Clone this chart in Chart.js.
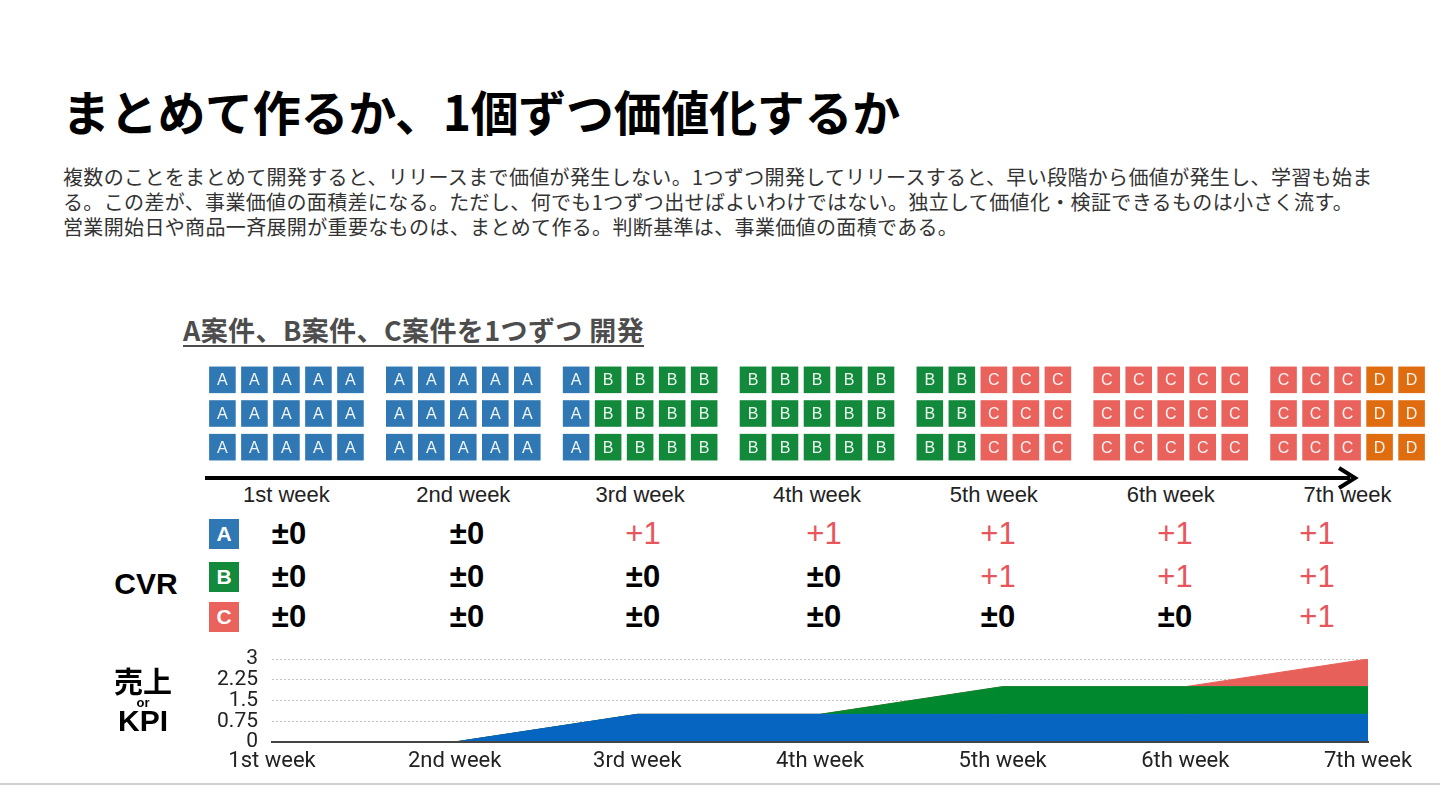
<!DOCTYPE html>
<html lang="ja">
<head>
<meta charset="utf-8">
<title>まとめて作るか、1個ずつ価値化するか</title>
<script src="https://cdn.jsdelivr.net/npm/chart.js@4.4.1/dist/chart.umd.min.js"></script>
<style>
  html, body { margin: 0; padding: 0; background: #fff; }
  body { width: 1440px; height: 810px; position: relative; overflow: hidden;
         font-family: "Noto Sans CJK JP", "Liberation Sans", sans-serif; }
  .abs { position: absolute; }
  .c { transform: translate(-50%, -50%); white-space: nowrap; }
  #title { left: 62px; top: 86px; font-size: 48px; line-height: 48px; font-weight: 700; color: #000; white-space: nowrap; letter-spacing: -0.3px; }
  #lead { left: 63px; top: 164px; font-size: 20px; line-height: 25px; color: #333; white-space: nowrap; letter-spacing: 0.35px; }
  #sub { left: 183px; top: 316px; font-size: 27px; line-height: 27px; font-weight: 700; color: #4d4d4d; letter-spacing: 0.4px;
         text-decoration: underline; text-underline-offset: 4px; text-decoration-thickness: 2px; white-space: nowrap; }
  .week { font-family: "Liberation Sans", Arial, sans-serif; font-size: 22px; color: #222; }
  .icon { width: 30px; height: 30px; line-height: 30px; text-align: center; color: #fff;
          font-family: "Liberation Sans", Arial, sans-serif; font-weight: 700; font-size: 21px; }
  .zero { font-family: "Liberation Sans", Arial, sans-serif; font-weight: 700; font-size: 31px; color: #000; }
  .plus { font-family: "Liberation Sans", Arial, sans-serif; font-weight: 400; font-size: 31px; color: #e8555a; }
  .side { font-family: "Liberation Sans", "Noto Sans CJK JP", Arial, sans-serif; font-weight: 700; color: #000; }
</style>
</head>
<body>
<div id="title" class="abs">まとめて作るか、1個ずつ価値化するか</div>
<div id="lead" class="abs">複数のことをまとめて開発すると、リリースまで価値が発生しない。1つずつ開発してリリースすると、早い段階から価値が発生し、学習も始ま<br>る。この差が、事業価値の面積差になる。ただし、何でも1つずつ出せばよいわけではない。独立して価値化・検証できるものは小さく流す。<br>営業開始日や商品一斉展開が重要なものは、まとめて作る。判断基準は、事業価値の面積である。</div>
<div id="sub" class="abs">A案件、B案件、C案件を1つずつ 開発</div>

<svg class="abs" style="left:0;top:0" width="1440" height="810">
  <line x1="205" y1="478" x2="1350" y2="478" stroke="#000" stroke-width="4"/>
  <polyline points="1339,468 1355,478 1339,488" fill="none" stroke="#000" stroke-width="4"/>
  <line x1="0" y1="784" x2="1440" y2="784" stroke="#cfcfcf" stroke-width="2"/>
</svg>

<div class="abs" style="left:198px;top:363px;">
  <canvas id="taskChart" width="1238" height="101"></canvas>
</div>
<div class="abs" style="left:150px;top:645px;">
  <canvas id="kpiChart" width="1290" height="137"></canvas>
</div>

<div class="abs c side" style="left:146px;top:584px;font-size:30px;">CVR</div>
<div class="abs c side" style="left:143px;top:680px;font-size:29px;font-family:'Noto Sans CJK JP',sans-serif;">売上</div>
<div class="abs c side" style="left:143px;top:702px;font-size:13px;">or</div>
<div class="abs c side" style="left:143px;top:721px;font-size:30px;">KPI</div>

<div id="labels"></div>

<script>
// data
var weeks = ['1st week', '2nd week', '3rd week', '4th week', '5th week', '6th week', '7th week'];
var weekTasks = ['AAAAA', 'AAAAA', 'ABBBB', 'BBBBB', 'BBCCC', 'CCCCC', 'CCCDD'];
var taskRows = 3;
var products = ['A', 'B', 'C'];
var cvrA = [0, 0, 1, 1, 1, 1, 1];
var cvrB = [0, 0, 0, 0, 1, 1, 1];
var cvrC = [0, 0, 0, 0, 0, 0, 1];
var kpiA = [0, 0, 1, 1, 1, 1, 1];
var kpiB = [0, 0, 0, 0, 1, 1, 1];
var kpiC = [0, 0, 0, 0, 0, 0, 1];
var kpiTicks = [0, 0.75, 1.5, 2.25, 3];

var taskColors = { A: '#2f78b4', B: '#13893b', C: '#e9625c', D: '#e06c10' };
var colStep = 0.181;   // box spacing inside a week, in week units
var cvrColX = [289, 467, 643, 824, 998, 1175, 1317];
var cvrRowY = [534, 577, 617];

// task boxes
var boxes = [];
weekTasks.forEach(function (tasks, w) {
  for (var r = 0; r < taskRows; r++) {
    for (var c = 0; c < tasks.length; c++) {
      boxes.push({ x: w + (c - 2) * colStep, y: r, task: tasks[c] });
    }
  }
});

var letterPlugin = {
  id: 'taskLetters',
  afterDatasetsDraw: function (chart) {
    var ctx = chart.ctx;
    var meta = chart.getDatasetMeta(0);
    var data = chart.data.datasets[0].data;
    ctx.save();
    ctx.fillStyle = 'rgba(255,255,255,0.93)';
    ctx.font = '16px "Liberation Sans", Arial, sans-serif';
    ctx.textAlign = 'center';
    ctx.textBaseline = 'middle';
    meta.data.forEach(function (pt, i) {
      ctx.fillText(data[i].task, pt.x, pt.y + 1);
    });
    ctx.restore();
  }
};

var taskChart = new Chart(document.getElementById('taskChart'), {
  type: 'scatter',
  data: {
    datasets: [{
      data: boxes,
      pointStyle: 'rect',
      pointRadius: 18.8,
      pointHoverRadius: 18.8,
      borderWidth: 0,
      backgroundColor: function (ctx) { return ctx.raw ? taskColors[ctx.raw.task] : '#000'; }
    }]
  },
  options: {
    responsive: false,
    animation: false,
    events: [],
    layout: { padding: 0, autoPadding: false },
    plugins: { legend: { display: false }, tooltip: { enabled: false } },
    scales: {
      x: { type: 'linear', min: -0.5, max: 6.5, display: false },
      y: { type: 'linear', min: -0.5, max: 2.5, reverse: true, display: false }
    }
  },
  plugins: [letterPlugin]
});

// week labels under the arrow, placed by the task chart's x scale
var labelsEl = document.getElementById('labels');
weeks.forEach(function (wk, i) {
  var d = document.createElement('div');
  d.className = 'abs c week';
  d.style.left = (198 + taskChart.scales.x.getPixelForValue(i)) + 'px';
  d.style.top = '495px';
  d.textContent = wk;
  labelsEl.appendChild(d);
});

// CVR table
[cvrA, cvrB, cvrC].forEach(function (row, p) {
  var ic = document.createElement('div');
  ic.className = 'abs c icon';
  ic.style.left = '224px';
  ic.style.top = cvrRowY[p] + 'px';
  ic.style.background = taskColors[products[p]];
  ic.textContent = products[p];
  labelsEl.appendChild(ic);
  row.forEach(function (v, i) {
    var d = document.createElement('div');
    d.className = 'abs c ' + (v > 0 ? 'plus' : 'zero');
    d.style.left = cvrColX[i] + 'px';
    d.style.top = cvrRowY[p] + 'px';
    d.textContent = v > 0 ? '+' + v : '±0';
    labelsEl.appendChild(d);
  });
});

// KPI stacked area
new Chart(document.getElementById('kpiChart'), {
  type: 'line',
  data: {
    labels: weeks,
    datasets: [
      { label: 'A', data: kpiA, backgroundColor: '#0565c1', borderColor: '#0565c1', fill: 'origin' },
      { label: 'B', data: kpiB, backgroundColor: '#00882e', borderColor: '#00882e', fill: '-1' },
      { label: 'C', data: kpiC, backgroundColor: '#e8605a', borderColor: '#e8605a', fill: '-1' }
    ]
  },
  options: {
    responsive: false,
    animation: false,
    events: [],
    elements: { point: { radius: 0 }, line: { borderWidth: 1, tension: 0 } },
    layout: { padding: { top: 14, right: 72, left: 0, bottom: 0 }, autoPadding: false },
    plugins: { legend: { display: false }, tooltip: { enabled: false } },
    scales: {
      x: {
        offset: false,
        grid: { display: false, drawTicks: false },
        border: { display: true, color: '#444', width: 2, z: 1 },
        ticks: { color: '#222', font: { family: 'Roboto', size: 22 }, padding: 6, maxRotation: 0, autoSkip: false },
        afterFit: function (s) { s.height = 40; }
      },
      y: {
        stacked: true,
        min: 0,
        max: 3,
        afterBuildTicks: function (s) { s.ticks = kpiTicks.map(function (v) { return { value: v }; }); },
        grid: { color: '#c4c4c4', lineWidth: 1, drawTicks: false },
        border: { display: false, dash: [2, 2] },
        ticks: {
          color: '#222', font: { family: 'Roboto', size: 21, lineHeight: 1 }, padding: 14, autoSkip: false,
          callback: function (v) { return String(v); }
        },
        afterFit: function (s) { s.width = 122; s.paddingTop = 0; s.paddingBottom = 0; }
      }
    }
  }
});
</script>
</body>
</html>
